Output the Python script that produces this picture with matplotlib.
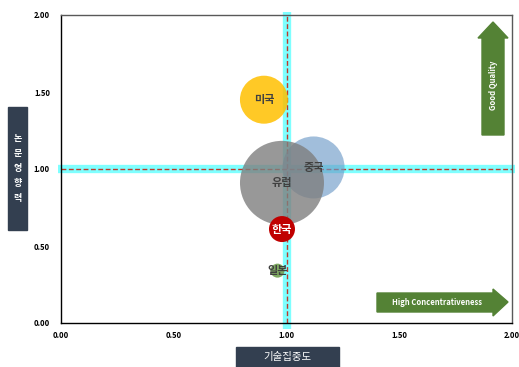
import matplotlib.pyplot as plt
from matplotlib.patches import Rectangle, Polygon
from matplotlib.transforms import blended_transform_factory

plt.rcParams['font.family'] = ['Noto Sans CJK KR', 'DejaVu Sans']

# bubble data: technology concentration (x), paper impact (y), relative size
regions = ['미국', '중국', '유럽', '한국', '일본']
concentration = [0.90, 1.12, 0.98, 0.98, 0.96]
impact = [1.45, 1.01, 0.91, 0.61, 0.34]
size = [576, 961, 1764, 169, 49]
colors = ['#FFC000', '#6F9BC8', '#7F7F7F', '#C00000', '#70A050']
alphas = [0.85, 0.65, 0.8, 1.0, 0.9]
label_colors = ['#404040', '#404040', '#404040', 'white', '#404040']

ticks = [0.0, 0.5, 1.0, 1.5, 2.0]
tick_labels = ['0.00', '0.50', '1.00', '1.50', '2.00']

W, H = 519, 367
fig = plt.figure(figsize=(W / 100, H / 100), dpi=100)
ax = fig.add_axes([61 / W, 44 / H, 451 / W, 308 / H])
ax.set_xlim(0, 2)
ax.set_ylim(0, 2)

# reference lines at 1.0: cyan band with dark red dashes
bx = blended_transform_factory(ax.transAxes, ax.transData)
by = blended_transform_factory(ax.transData, ax.transAxes)
ax.plot([-0.007, 1.007], [1, 1], transform=bx, color='#7FFFFF', lw=6,
        clip_on=False, zorder=1, solid_capstyle='butt')
ax.plot([1, 1], [-0.02, 1.01], transform=by, color='#7FFFFF', lw=6,
        clip_on=False, zorder=1, solid_capstyle='butt')
ax.plot([0, 1], [1, 1], transform=bx, color='#C0392B', lw=1.0,
        ls=(0, (3.5, 1.8)), zorder=2)
ax.plot([1, 1], [0, 1], transform=by, color='#C0392B', lw=1.0,
        ls=(0, (3.5, 1.8)), zorder=2)

# bubbles, radius in px -> marker area in pt^2
for i, name in enumerate(regions):
    d = 2 * (size[i] ** 0.5) * 0.72
    ax.scatter(concentration[i], impact[i], s=d ** 2, color=colors[i],
               alpha=alphas[i], edgecolors='none', zorder=3)
    ax.text(concentration[i], impact[i], name, ha='center', va='center',
            fontsize=8, fontweight='bold', color=label_colors[i], zorder=5)

ax.set_xticks(ticks)
ax.set_xticklabels(tick_labels)
ax.set_yticks(ticks)
ax.set_yticklabels(tick_labels)
ax.tick_params(length=0, labelsize=5.5, pad=6)
for lab in ax.get_xticklabels() + ax.get_yticklabels():
    lab.set_fontweight('bold')
ax.tick_params(axis='y', pad=8)
for side in ['top', 'right']:
    ax.spines[side].set_color('#595959')
for side in ['left', 'bottom']:
    ax.spines[side].set_color('black')
for sp in ax.spines.values():
    sp.set_linewidth(1.0)


def px(x, y):
    return (x / W, 1 - y / H)


# axis title boxes
fig.patches.append(Rectangle(px(8, 230), 19 / W, 123 / H, color='#333F50',
                             transform=fig.transFigure, figure=fig))
for k, ch in enumerate('논문영향력'):
    fig.text(*px(17.5, 138 + k * 15), ch, color='white', fontsize=6.5,
             fontweight='bold', ha='center', va='center')
fig.patches.append(Rectangle(px(236, 367), 103 / W, 20 / H, color='#333F50',
                             transform=fig.transFigure, figure=fig))
fig.text(*px(287.5, 357), '기술집중도', color='white', fontsize=7.5,
         ha='center', va='center')

# green direction arrows
green = '#548235'
up = [(482, 135), (504, 135), (504, 38), (508, 38), (493, 22), (478, 38), (482, 38)]
fig.patches.append(Polygon([px(*p) for p in up], closed=True, color=green,
                           transform=fig.transFigure, figure=fig))
fig.text(*px(493, 85), 'Good Quality', color='white', fontsize=5.5,
         fontweight='bold', rotation=90, ha='center', va='center')
right = [(377, 293), (493, 293), (493, 289), (508, 302), (493, 316), (493, 312), (377, 312)]
fig.patches.append(Polygon([px(*p) for p in right], closed=True, color=green,
                           transform=fig.transFigure, figure=fig))
fig.text(*px(437, 302.5), 'High Concentrativeness', color='white', fontsize=5.5,
         fontweight='bold', ha='center', va='center')

fig.savefig('out.png', dpi=100)
